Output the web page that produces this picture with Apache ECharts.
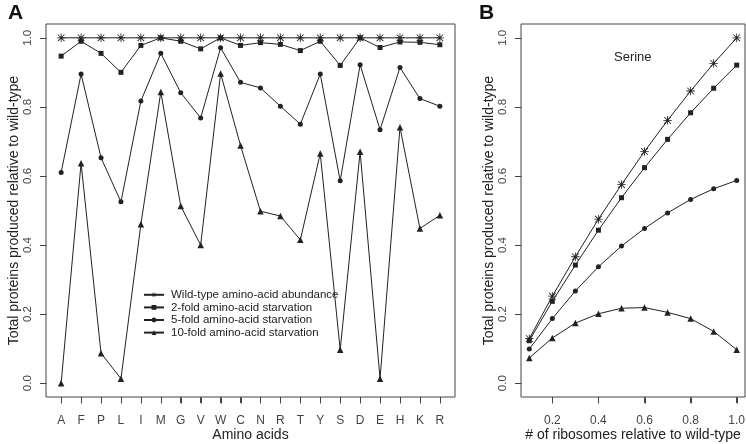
<!DOCTYPE html>
<html>
<head>
<meta charset="utf-8">
<script src="https://cdn.jsdelivr.net/npm/echarts@6/dist/echarts.min.js"></script>
<style>html,body{margin:0;padding:0;background:#fff}#c{width:746px;height:444px}</style>
</head>
<body>
<div id="c"></div>
<script>
// ---- Panel A data ----
var aminoAcids = ['A','F','P','L','I','M','G','V','W','C','N','R','T','Y','S','D','E','H','K','R'];
var wildTypeA = [1,1,1,1,1,1,1,1,1,1,1,1,1,1,1,1,1,1,1,1];
var fold2A = [0.947,0.990,0.955,0.900,0.978,1.000,0.990,0.968,1.000,0.978,0.986,0.981,0.963,0.990,0.920,1.000,0.972,0.988,0.987,0.980];
var fold5A = [0.610,0.895,0.653,0.525,0.817,0.955,0.841,0.768,0.971,0.871,0.855,0.802,0.750,0.895,0.586,0.922,0.734,0.914,0.824,0.802];
var fold10A = [0.000,0.637,0.087,0.013,0.460,0.843,0.513,0.400,0.897,0.688,0.498,0.484,0.415,0.665,0.097,0.670,0.013,0.741,0.448,0.486];

// ---- Panel B data ----
var ribosomes = [0.1,0.2,0.3,0.4,0.5,0.6,0.7,0.8,0.9,1.0];
var wildTypeB = [0.129,0.252,0.366,0.475,0.575,0.671,0.761,0.846,0.926,1.000];
var fold2B = [0.123,0.237,0.342,0.443,0.537,0.624,0.706,0.783,0.854,0.921];
var fold5B = [0.099,0.187,0.267,0.337,0.397,0.448,0.493,0.532,0.563,0.587];
var fold10B = [0.073,0.131,0.174,0.201,0.217,0.219,0.205,0.187,0.150,0.097];

// ---- tick labels ----
var yTicks = [0, 0.2, 0.4, 0.6, 0.8, 1.0];
var xTicksB = [0.2, 0.4, 0.6, 0.8, 1.0];
var seriesNames = ['Wild-type amino-acid abundance','2-fold amino-acid starvation','5-fold amino-acid starvation','10-fold amino-acid starvation'];

// axis ranges (R-style 4% padding)
var yMin = -0.04, yMax = 1.04;
var xMinA = -0.76, xMaxA = 19.76;
var xMinB = 0.064, xMaxB = 1.036;

var FONT = 'Liberation Sans, Arial, Helvetica, sans-serif';
var INK = '#222';
var GRAY = '#444';
var STAR = 'path://M0,4.5L10,4.5L10,5.5L0,5.5Z M4.5,0L5.5,0L5.5,10L4.5,10Z M0.75,1.46L1.46,0.75L9.25,8.54L8.54,9.25Z M8.54,0.75L9.25,1.46L1.46,9.25L0.75,8.54Z';
var symbols = [STAR, 'rect', 'circle', 'triangle'];
var symSizes = [8.5, 5, 5, 6.5];
var TICK = 6;

var indices = aminoAcids.map(function(_, i){ return i; });

function pairs(xs, ys){ return xs.map(function(x, i){ return [x, ys[i]]; }); }

// tick marks drawn through the axes' own scales
function tickSeries(xIdx, vals, fixed, isX){
  return {
    type: 'custom', name: 'ticks', xAxisIndex: xIdx, yAxisIndex: xIdx, silent: true, clip: false, z: 20,
    data: vals.map(function(v){ return isX ? [v, fixed] : [fixed, v]; }),
    renderItem: function(params, api){
      var p = api.coord([api.value(0), api.value(1)]);
      var x = Math.round(p[0]) + 0.5, y = Math.round(p[1]) + 0.5;
      var shape = isX ? {x1: x, y1: y, x2: x, y2: y + TICK} : {x1: x - TICK, y1: y, x2: x, y2: y};
      return {type: 'line', shape: shape, style: {stroke: GRAY, lineWidth: 1}};
    }
  };
}

function yAxisDef(gridIndex){
  return {
    gridIndex: gridIndex, type: 'value', min: yMin, max: yMax,
    axisLine: {show: false, onZero: false},
    axisTick: {show: true, inside: false, length: TICK, customValues: yTicks, lineStyle: {color: GRAY, width: 1}},
    axisLabel: {show: true, rotate: 90, margin: 12, customValues: yTicks, fontFamily: FONT, fontSize: 11.5, color: GRAY,
      formatter: function(v){ return v.toFixed(1); }},
    splitLine: {show: false},
    name: 'Total proteins produced relative to wild-type', nameLocation: 'middle', nameGap: 25, nameMoveOverlap: false,
    nameTextStyle: {fontFamily: FONT, fontSize: 14, color: INK}
  };
}

var seriesA = [wildTypeA, fold2A, fold5A, fold10A].map(function(vals, k){
  return {
    name: seriesNames[k], type: 'line', xAxisIndex: 0, yAxisIndex: 0,
    data: pairs(indices, vals), symbol: symbols[k], symbolSize: symSizes[k],
    showAllSymbol: true, z: 10 - k,
    lineStyle: {color: INK, width: 1}, itemStyle: {color: INK}
  };
});
var seriesB = [wildTypeB, fold2B, fold5B, fold10B].map(function(vals, k){
  return {
    name: seriesNames[k] + ' ', type: 'line', xAxisIndex: 1, yAxisIndex: 1,
    data: pairs(ribosomes, vals), symbol: symbols[k], symbolSize: symSizes[k],
    showAllSymbol: true, z: 10 - k,
    lineStyle: {color: INK, width: 1}, itemStyle: {color: INK}
  };
});

var chart = echarts.init(document.getElementById('c'));
chart.setOption({
  animation: false,
  backgroundColor: '#fff',
  title: [
    {text: 'A', left: 8, top: 3, padding: 0, textStyle: {fontFamily: FONT, fontSize: 21, fontWeight: 'bold', color: '#111'}},
    {text: 'B', left: 479, top: 3, padding: 0, textStyle: {fontFamily: FONT, fontSize: 21, fontWeight: 'bold', color: '#111'}},
    {text: 'Serine', left: 614, top: 51, padding: 0, textStyle: {fontFamily: FONT, fontSize: 13, fontWeight: 'normal', color: INK}}
  ],
  grid: [
    {left: 46, top: 24, width: 409, height: 373, show: true, borderColor: GRAY, borderWidth: 1, containLabel: false, outerBoundsMode: 'none'},
    {left: 521, top: 24, width: 224, height: 373, show: true, borderColor: GRAY, borderWidth: 1, containLabel: false, outerBoundsMode: 'none'}
  ],
  legend: {
    data: seriesNames, orient: 'vertical', left: 143, top: 288.5,
    itemWidth: 20, itemHeight: 6, itemGap: 0, padding: 0,
    textStyle: {fontFamily: FONT, fontSize: 11.5, color: INK, lineHeight: 12.6, padding: [0,0,0,2]}
  },
  xAxis: [
    {
      gridIndex: 0, type: 'value', min: xMinA, max: xMaxA,
      axisLine: {show: false, onZero: false},
      axisTick: {show: true, inside: false, length: TICK, customValues: indices, lineStyle: {color: GRAY, width: 1}},
      axisLabel: {show: true, margin: 18, customValues: indices, fontFamily: FONT, fontSize: 12, color: GRAY,
        formatter: function(v){ return aminoAcids[Math.round(v)]; }},
      splitLine: {show: false},
      name: 'Amino acids', nameLocation: 'middle', nameGap: 31, nameMoveOverlap: false,
      nameTextStyle: {fontFamily: FONT, fontSize: 14, color: INK}
    },
    {
      gridIndex: 1, type: 'value', min: xMinB, max: xMaxB,
      axisLine: {show: false, onZero: false},
      axisTick: {show: true, inside: false, length: TICK, customValues: xTicksB, lineStyle: {color: GRAY, width: 1}},
      axisLabel: {show: true, margin: 18, customValues: xTicksB, fontFamily: FONT, fontSize: 12, color: GRAY,
        formatter: function(v){ return v.toFixed(1); }},
      splitLine: {show: false},
      name: '# of ribosomes relative to wild-type', nameLocation: 'middle', nameGap: 31, nameMoveOverlap: false,
      nameTextStyle: {fontFamily: FONT, fontSize: 14, color: INK}
    }
  ],
  yAxis: [yAxisDef(0), yAxisDef(1)],
  series: seriesA.concat(seriesB).concat([
    tickSeries(0, indices, yMin, true),
    tickSeries(0, yTicks, xMinA, false),
    tickSeries(1, xTicksB, yMin, true),
    tickSeries(1, yTicks, xMinB, false)
  ])
});
</script>
</body>
</html>
